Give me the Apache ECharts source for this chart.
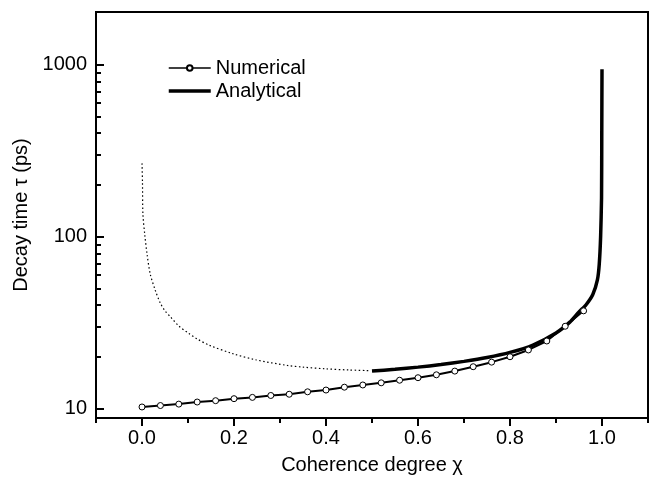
<!DOCTYPE html>
<html>
<head>
<meta charset="utf-8">
<script src="https://cdn.jsdelivr.net/npm/echarts@6/dist/echarts.min.js"></script>
<style>html,body{margin:0;padding:0;background:#fff;}#c{width:651px;height:480px;}</style>
</head>
<body>
<div id="c"></div>
<script>
// Numerical (open circles), chi step 0.04
const numChi = [0.00,0.04,0.08,0.12,0.16,0.20,0.24,0.28,0.32,0.36,0.40,0.44,0.48,0.52,0.56,0.60,0.64,0.68,0.72,0.76,0.80,0.84,0.88,0.92,0.96];
const numTau = [10.2,10.4,10.6,10.9,11.1,11.4,11.6,11.9,12.1,12.5,12.8,13.3,13.7,14.1,14.6,15.1,15.7,16.5,17.5,18.6,20.0,21.9,24.7,30.1,37.0];
// Analytical (thick solid), chi 0.5 .. 1.0
const anaChi = [0.50,0.55,0.60,0.65,0.70,0.75,0.80,0.85,0.90,0.93,0.95,0.965,0.98,0.99,0.994,0.997,0.999,0.9995,1.0];
const anaTau = [16.5,16.9,17.4,18.0,18.8,19.8,21.2,23.4,27.5,31.8,36.5,40.0,46.0,56.0,69.0,100,168,400,944];
// Analytical extrapolation (dotted), chi 0 .. 0.5
const dotChi = [0.000,0.001,0.002,0.006,0.011,0.018,0.029,0.040,0.050,0.062,0.080,0.102,0.120,0.145,0.196,0.247,0.316,0.350,0.400,0.450,0.494];
const dotTau = [267,209,135,103,79,60.5,48.6,41,37,34.1,30.2,27.3,25.4,23.4,20.9,19.2,17.8,17.4,17.0,16.75,16.6];
// Axis ticks / labels
const xLabels = [0.0,0.2,0.4,0.6,0.8,1.0];
const yMajor = [10,100,1000];
const yMinor = [20,30,40,50,60,70,80,90,200,300,400,500,600,700,800,900];

const zip = (a,b) => a.map((v,i)=>[v,b[i]]);
const FS = 20;
const chart = echarts.init(document.getElementById('c'));
const yRange = {min: 8.8, max: 2030};
chart.setOption({
  animation: false,
  textStyle: {fontFamily: 'Liberation Sans', color: '#000'},
  grid: {left: 96, right: 3, top: 12, bottom: 58, show: true, borderColor: '#000', borderWidth: 2},
  legend: {
    orient: 'vertical', left: 163, top: 53, itemGap: 3, itemWidth: 42, itemHeight: 7,
    textStyle: {fontSize: FS, color: '#000'},
    data: [
      {name: 'Numerical', lineStyle: {width: 1.5}},
      {name: 'Analytical', icon: 'path://M0,0 L42,0 L42,3.5 L0,3.5 Z'}
    ]
  },
  xAxis: [
    {type: 'value', min: -0.1, max: 1.1, interval: 0.2, position: 'bottom',
     axisLine: {show: true, onZero: false, lineStyle: {color: '#000', width: 2}},
     axisTick: {show: true, length: 5, lineStyle: {color: '#000', width: 2}},
     minorTick: {show: true, splitNumber: 2, length: 8, lineStyle: {color: '#000', width: 2}},
     axisLabel: {customValues: xLabels, formatter: v => v.toFixed(1), fontSize: FS, color: '#000', margin: 10},
     splitLine: {show: false}, minorSplitLine: {show: false},
     name: 'Coherence degree χ', nameLocation: 'middle', nameGap: 37,
     nameTextStyle: {fontSize: FS, color: '#000'}}
  ],
  yAxis: [
    {type: 'log', min: yRange.min, max: yRange.max, position: 'left',
     axisLine: {show: true, onZero: false, lineStyle: {color: '#000', width: 2}},
     axisTick: {show: true, inside: true, length: 8, lineStyle: {color: '#000', width: 2}, customValues: yMajor},
     axisLabel: {customValues: yMajor, formatter: v => String(Math.round(v)), fontSize: FS, color: '#000', margin: 9},
     splitLine: {show: false},
     name: 'Decay time τ (ps)', nameLocation: 'middle', nameGap: 62, nameRotate: 90,
     nameTextStyle: {fontSize: FS, color: '#000'}},
    {type: 'log', min: yRange.min, max: yRange.max, position: 'left',
     axisLine: {show: false, onZero: false},
     axisTick: {show: true, inside: true, length: 5, lineStyle: {color: '#000', width: 2}, customValues: yMinor},
     axisLabel: {show: false}, splitLine: {show: false}}
  ],
  series: [
    {name: 'Extrapolated', type: 'line', data: zip(dotChi, dotTau),
     smooth: 0.3, showSymbol: false, symbol: 'none', lineStyle: {color: '#000', width: 1.2, type: [1.5, 2.5]}, z: 2},
    {name: 'Numerical', type: 'line', data: zip(numChi, numTau),
     symbol: 'circle', symbolSize: 6, showSymbol: true,
     itemStyle: {color: '#fff', borderColor: '#000', borderWidth: 1},
     lineStyle: {color: '#000', width: 2}, z: 4},
    {name: 'Analytical', type: 'line', data: zip(anaChi, anaTau),
     smooth: 0.2, showSymbol: false, symbol: 'none', itemStyle: {color: '#000'},
     lineStyle: {color: '#000', width: 3.5}, z: 3}
  ]
});
try {
  const m = chart.getModel();
  for (let i = 0; i < 2; i++) m.getComponent('yAxis', i).axis.getTicksCoords();
} catch (e) {}
</script>
</body>
</html>
